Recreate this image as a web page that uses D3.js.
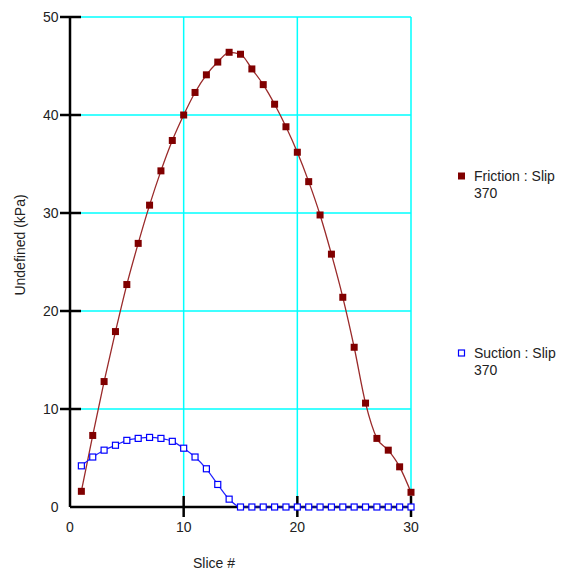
<!DOCTYPE html>
<meta charset="utf-8">
<script src="https://d3js.org/d3.v7.min.js"></script>
<style>
  body { margin: 0; background: #fff; }
  text { font-family: Arial, "Liberation Sans", sans-serif; fill: #222; }
</style>
<div id="my_dataviz"></div>
<script>

// data
var slices = d3.range(1, 31);
var friction = [1.6, 7.3, 12.8, 17.9, 22.7, 26.9, 30.8, 34.3, 37.4, 40.0,
                42.3, 44.1, 45.4, 46.4, 46.2, 44.7, 43.1, 41.1, 38.8, 36.2,
                33.2, 29.8, 25.8, 21.4, 16.3, 10.6, 7.0, 5.8, 4.1, 1.5];
var suction = [4.2, 5.1, 5.8, 6.3, 6.8, 7.0, 7.1, 7.0, 6.7, 6.0,
               5.1, 3.9, 2.3, 0.8, 0, 0, 0, 0, 0, 0,
               0, 0, 0, 0, 0, 0, 0, 0, 0, 0];
var xTicks = [0, 10, 20, 30];
var yTicks = [0, 10, 20, 30, 40, 50];
var seriesNames = [["Friction : Slip", "370"], ["Suction : Slip", "370"]];

var W = 561, H = 571;
var margin = {top: 17, left: 70};
var width = 341, height = 490;

var svg = d3.select("#my_dataviz")
  .append("svg")
    .attr("width", W)
    .attr("height", H)
  .append("g")
    .attr("transform", "translate(" + margin.left + "," + margin.top + ")");

var x = d3.scaleLinear().domain([0, 30]).range([0, width]);
var y = d3.scaleLinear().domain([0, 50]).range([height, 0]);

// cyan grid
svg.append("g").selectAll("line.hg")
  .data(yTicks.filter(function(d) { return d > 0; }))
  .enter().append("line")
    .attr("x1", 11).attr("x2", width)
    .attr("y1", function(d) { return y(d); })
    .attr("y2", function(d) { return y(d); })
    .style("stroke", "#00ffff").style("stroke-width", 1.5);

svg.append("g").selectAll("line.vg")
  .data(xTicks.filter(function(d) { return d > 0; }))
  .enter().append("line")
    .attr("x1", function(d) { return x(d); })
    .attr("x2", function(d) { return x(d); })
    .attr("y1", 0).attr("y2", height - 11)
    .style("stroke", "#00ffff").style("stroke-width", 1.5);

// axes
svg.append("line")
  .attr("x1", 0).attr("x2", 0).attr("y1", y(50)).attr("y2", y(0))
  .style("stroke", "#000").style("stroke-width", 2.5);
svg.append("line")
  .attr("x1", 0).attr("x2", x(30)).attr("y1", y(0)).attr("y2", y(0))
  .style("stroke", "#000").style("stroke-width", 2.5);

svg.append("g").selectAll("line")
  .data(yTicks.filter(function(d) { return d > 0; }))
  .enter().append("line")
    .attr("x1", -10).attr("x2", 11)
    .attr("y1", function(d) { return y(d); })
    .attr("y2", function(d) { return y(d); })
    .style("stroke", "#000").style("stroke-width", 2.5);

svg.append("g").selectAll("line")
  .data(xTicks.filter(function(d) { return d > 0; }))
  .enter().append("line")
    .attr("x1", function(d) { return x(d); })
    .attr("x2", function(d) { return x(d); })
    .attr("y1", height - 11).attr("y2", height + 10)
    .style("stroke", "#000").style("stroke-width", 2.5);

// tick labels
svg.append("g").selectAll("text")
  .data(yTicks)
  .enter().append("text")
    .attr("x", -11.5)
    .attr("y", function(d) { return y(d); })
    .attr("dy", "0.35em")
    .attr("text-anchor", "end")
    .style("font-size", "14px")
    .text(function(d) { return d; });

svg.append("g").selectAll("text")
  .data(xTicks)
  .enter().append("text")
    .attr("x", function(d) { return x(d); })
    .attr("y", height + 25)
    .attr("text-anchor", "middle")
    .style("font-size", "14px")
    .text(function(d) { return d; });

// axis titles
svg.append("text")
  .attr("x", 214 - margin.left)
  .attr("y", height + 61)
  .attr("text-anchor", "middle")
  .style("font-size", "14px")
  .text("Slice #");

svg.append("text")
  .attr("transform", "rotate(-90)")
  .attr("x", -(245 - margin.top))
  .attr("y", -45)
  .attr("text-anchor", "middle")
  .style("font-size", "14px")
  .text("Undefined (kPa)");

// lines
var line = d3.line()
  .x(function(d, i) { return x(slices[i]); })
  .y(function(d) { return y(d); })
  .curve(d3.curveMonotoneX);

svg.append("path")
  .datum(friction)
  .attr("d", line)
  .style("fill", "none").style("stroke", "#9a2a2a").style("stroke-width", 1.3);

svg.append("path")
  .datum(suction)
  .attr("d", line)
  .style("fill", "none").style("stroke", "#2020ff").style("stroke-width", 1.2);

// markers
svg.append("g").selectAll("rect")
  .data(friction)
  .enter().append("rect")
    .attr("x", function(d, i) { return x(slices[i]) - 3.5; })
    .attr("y", function(d) { return y(d) - 3.5; })
    .attr("width", 7).attr("height", 7)
    .style("fill", "#800000");

svg.append("g").selectAll("rect")
  .data(suction)
  .enter().append("rect")
    .attr("x", function(d, i) { return x(slices[i]) - 3; })
    .attr("y", function(d) { return y(d) - 3; })
    .attr("width", 6).attr("height", 6)
    .style("fill", "#fff").style("stroke", "#0000ff").style("stroke-width", 1.2);

// legend
var legY = [176, 353];
var leg = d3.select("svg").append("g");
leg.append("rect").attr("x", 458).attr("y", legY[0] - 3.5).attr("width", 7).attr("height", 7)
  .style("fill", "#800000");
leg.append("rect").attr("x", 458.5).attr("y", legY[1] - 3).attr("width", 6).attr("height", 6)
  .style("fill", "#fff").style("stroke", "#0000ff").style("stroke-width", 1.2);
seriesNames.forEach(function(lines, k) {
  lines.forEach(function(t, j) {
    leg.append("text")
      .attr("x", 474)
      .attr("y", legY[k] + j * 17)
      .attr("dy", "0.35em")
      .style("font-size", "14px")
      .text(t);
  });
});

</script>
